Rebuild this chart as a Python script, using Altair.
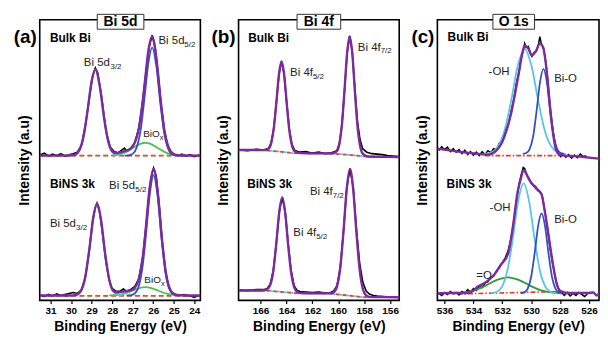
import altair as alt
import pandas as pd

FONT = "Liberation Sans"
PURPLE = "#7d2a9e"
BLUE = "#3450c4"
CYAN = "#56c6e4"
GREEN_A = "#4cbf55"
GREEN_C = "#2f9a3a"
RED = "#e53b2c"
H = 283

# ---------------- Panel (a) Bi 5d ----------------
A_TICKS = [31, 30, 29, 28, 27, 26, 25, 24]
A_DOMAIN = [23.7, 31.53]
A_UP_ENV_E = [31.5, 31.0, 30.5, 30.2, 30.0, 29.8, 29.6, 29.4, 29.2, 29.0, 28.82, 28.6, 28.4, 28.2, 28.0, 27.8, 27.6, 27.4, 27.2, 27.0, 26.8, 26.6, 26.4, 26.25, 26.05, 25.85, 25.65, 25.45, 25.25, 25.05, 24.8, 24.5, 24.0, 23.7]
A_UP_ENV_I = [146, 146, 146, 146, 146.2, 147.1, 151.4, 164.8, 191.1, 221.1, 233.0, 215.8, 185.0, 161.1, 150.4, 148.5, 149.5, 150.5, 151.8, 155.3, 164.5, 185.6, 221.4, 249.5, 266.1, 245.5, 204.6, 170.9, 154.0, 148.2, 146.5, 146.1, 146, 146]
A_UP_D32_E = [30.2, 30.0, 29.8, 29.6, 29.4, 29.2, 29.0, 28.82, 28.6, 28.4, 28.2, 28.0, 27.8, 27.6]
A_UP_D32_I = [146, 146.2, 147.1, 151.4, 164.8, 191.1, 221.1, 232.5, 215.8, 185.0, 161.1, 150.1, 146.8, 146]
A_UP_D52_E = [27.4, 27.2, 27.0, 26.8, 26.6, 26.4, 26.25, 26.05, 25.85, 25.65, 25.45, 25.25, 25.05, 24.8, 24.5]
A_UP_D52_I = [146, 146.3, 147.8, 154.4, 173.5, 208.4, 236.8, 255, 236.8, 198.5, 167.1, 151.9, 147.1, 146.1, 146]
A_UP_OX_E = [28.0, 27.8, 27.6, 27.4, 27.2, 27.0, 26.8, 26.6, 26.4, 26.25, 26.05, 25.85, 25.65, 25.45, 25.25, 25.05, 24.8, 24.5]
A_UP_OX_I = [146.3, 146.8, 147.6, 149.0, 151.0, 153.5, 156.1, 158.1, 159.0, 158.7, 157.1, 154.7, 152.1, 149.8, 148.1, 147.1, 146.4, 146.1]
A_UP_DATA_E = [31.5, 31.3, 31.1, 30.9, 30.7, 30.5, 30.3, 30.1, 29.9, 29.7, 29.5, 29.3, 29.1, 28.95, 28.82, 28.7, 28.5, 28.3, 28.1, 27.9, 27.7, 27.5, 27.4, 27.3, 27.1, 26.9, 26.7, 26.5, 26.35, 26.2, 26.05, 25.9, 25.75, 25.6, 25.45, 25.3, 25.15, 25.0, 24.8, 24.6, 24.4, 24.2, 24.0, 23.8, 23.7]
A_UP_DATA_I = [147, 148.5, 145.5, 147.5, 146, 148, 145.5, 147, 148, 149.5, 156, 177, 206, 226, 234.5, 229, 203, 171, 155, 150, 149, 152, 153.5, 151, 153, 159, 174, 203, 230, 255, 267.5, 254, 226, 195, 171, 157, 150, 147.5, 146, 147.5, 145.5, 147, 145, 146.5, 145.5]
A_UP_BG_E = [31.53, 23.7]
A_UP_BG_I = [146, 146]

A_LO_ENV_E = [31.5, 31.0, 30.5, 30.0, 29.9, 29.72, 29.52, 29.32, 29.12, 28.92, 28.74, 28.54, 28.34, 28.14, 27.94, 27.74, 27.5, 27.3, 27.1, 26.9, 26.7, 26.5, 26.35, 26.18, 25.98, 25.78, 25.58, 25.38, 25.18, 24.98, 24.7, 24.4, 24.0, 23.7]
A_LO_ENV_I = [5, 5, 5, 5, 5.1, 5.8, 9.6, 22.5, 50.3, 83.6, 97.3, 80.8, 46.9, 20.8, 9.5, 8, 9, 9.5, 10.2, 12.6, 21.6, 45.0, 74.9, 112.2, 132.7, 109.4, 63.4, 27.6, 11.3, 6.4, 5.15, 5, 5, 5]
A_LO_D32_E = [29.9, 29.72, 29.52, 29.32, 29.12, 28.92, 28.74, 28.54, 28.34, 28.14, 27.94, 27.74, 27.5]
A_LO_D32_I = [5.1, 5.8, 9.6, 22.5, 50.3, 83.6, 96.8, 80.8, 46.9, 20.7, 8.9, 5.7, 5]
A_LO_D52_E = [27.3, 27.1, 26.9, 26.7, 26.5, 26.35, 26.18, 25.98, 25.78, 25.58, 25.38, 25.18, 24.98, 24.7]
A_LO_D52_I = [5, 5.25, 6.9, 14.4, 36.9, 66.6, 104.4, 126.1, 104.4, 60.0, 25.6, 10.2, 5.9, 5]
A_LO_OX_E = [28.14, 27.94, 27.74, 27.5, 27.3, 27.1, 26.9, 26.7, 26.5, 26.35, 26.18, 25.98, 25.78, 25.58, 25.38, 25.18, 24.98, 24.7]
A_LO_OX_I = [5.1, 5.3, 5.6, 6.4, 7.5, 9.0, 10.7, 12.2, 13.1, 13.3, 12.8, 11.6, 10.0, 8.4, 7.0, 6.1, 5.5, 5.15]
A_LO_DATA_E = [31.5, 31.3, 31.1, 30.9, 30.7, 30.5, 30.3, 30.1, 29.9, 29.7, 29.5, 29.3, 29.1, 28.95, 28.82, 28.74, 28.6, 28.45, 28.3, 28.15, 28.0, 27.8, 27.6, 27.45, 27.3, 27.1, 26.9, 26.7, 26.5, 26.35, 26.18, 26.05, 25.98, 25.85, 25.7, 25.55, 25.4, 25.25, 25.1, 24.9, 24.7, 24.5, 24.3, 24.1, 24.0, 23.85, 23.7]
A_LO_DATA_I = [5.5, 4, 6, 4.5, 6.5, 5, 6, 7, 8, 7, 10.5, 24, 53, 80, 94, 98, 88, 64, 38, 21, 12, 9, 9.5, 11.5, 9, 11, 14, 22, 45, 75, 112, 128, 133.5, 125, 95, 57, 30, 14, 8, 6, 5, 6, 5, 4, 3, 4.5, 5]
A_LO_BG_E = [31.53, 23.7]
A_LO_BG_I = [4.5, 4.5]

A_SAMPLE_TXT = ["Bulk Bi", "BiNS 3k"]
A_SAMPLE_E = [31.03, 31.03]
A_SAMPLE_I = [265, 117]
A_PEAK_TXT = ["Bi 5d", "Bi 5d", "Bi 5d", "Bi 5d"]
A_PEAK_E = [29.38, 25.74, 28.15, 31.03]
A_PEAK_I = [239, 262, 115, 77]
A_SUB_TXT = ["3/2", "5/2", "5/2", "3/2"]
A_SUB_E = [28.08, 24.48, 26.87, 29.76]
A_SUB_I = [235, 258, 111, 73]
A_OX_TXT = ["BiO", "BiO"]
A_OX_E = [26.49, 26.43]
A_OX_I = [168, 21]
A_OXSUB_TXT = ["x", "x"]
A_OXSUB_E = [25.68, 25.62]
A_OXSUB_I = [164, 17]

# ---------------- Panel (b) Bi 4f ----------------
B_TICKS = [166, 164, 162, 160, 158, 156]
B_DOMAIN = [155.3, 167.7]
B_UP_ENV_E = [167.7, 166.5, 165.78, 165.38, 165.18, 164.98, 164.78, 164.58, 164.38, 164.18, 163.98, 163.78, 163.58, 163.38, 162.98, 161.5, 160.52, 160.12, 159.92, 159.72, 159.52, 159.32, 159.12, 158.92, 158.72, 158.52, 158.32, 158.12, 157.72, 156.5, 155.3]
B_UP_ENV_I = [151.7, 151.7, 151.6, 153.0, 158.6, 173.4, 199.6, 228.2, 240.9, 227.7, 198.4, 171.7, 156.4, 150.5, 148.5, 148.3, 148.2, 150.3, 157.8, 177.3, 211.9, 249.6, 266.3, 249.1, 210.9, 175.9, 156.0, 148.0, 145.1, 144.8, 144.6]
B_UP_BG_E = [167.7, 165.8, 164.6, 163.5, 160.7, 159.2, 157.7, 155.3]
B_UP_BG_I = [151.7, 151.5, 150.2, 148.5, 148.3, 146.8, 145.0, 144.8]
B_UP_DATA_E = [167.7, 167.0, 166.3, 165.8, 165.38, 165.18, 164.98, 164.78, 164.58, 164.38, 164.18, 163.98, 163.78, 163.58, 163.38, 163.0, 162.5, 162.0, 161.5, 161.0, 160.52, 160.12, 159.92, 159.72, 159.52, 159.32, 159.12, 158.92, 158.72, 158.52, 158.32, 158.12, 157.8, 157.4, 157.0, 156.6, 156.2, 155.8, 155.3]
B_UP_DATA_I = [152, 151, 152.5, 151.5, 153.5, 159, 174, 200, 228, 241, 228, 199, 172.5, 157.5, 151.5, 149.5, 150, 148.5, 149.5, 148, 149, 151, 158, 177.5, 212, 249.5, 266.5, 250, 213, 180, 162, 153, 149.5, 148, 147.5, 147, 146, 145.5, 145]

B_LO_ENV_E = [167.7, 166.5, 165.71, 165.48, 165.25, 165.02, 164.79, 164.56, 164.33, 164.10, 163.87, 163.64, 163.41, 163.18, 162.95, 161.8, 160.6, 160.35, 160.1, 159.85, 159.6, 159.35, 159.1, 158.85, 158.6, 158.35, 158.1, 157.85, 157.6, 156.5, 155.3]
B_LO_ENV_I = [10, 10, 10.2, 11.2, 15.6, 29.4, 56.8, 89.1, 103.9, 88.4, 55.7, 27.7, 13.4, 8.6, 7.5, 7.1, 7.2, 8.3, 14.2, 32.7, 69.5, 112.6, 132.6, 112.0, 68.1, 30.7, 11.3, 5.0, 3.6, 3.3, 3.2]
B_LO_BG_E = [167.7, 165.6, 164.4, 163.3, 160.7, 159.4, 158.1, 155.3]
B_LO_BG_I = [10, 10, 8.6, 7.3, 7.0, 5.2, 3.3, 3.2]
B_LO_DATA_E = [167.7, 167.0, 166.3, 165.71, 165.48, 165.25, 165.02, 164.79, 164.56, 164.33, 164.10, 163.87, 163.64, 163.41, 163.18, 162.95, 162.5, 162.0, 161.5, 161.0, 160.6, 160.35, 160.1, 159.85, 159.6, 159.35, 159.1, 158.85, 158.6, 158.35, 158.1, 157.85, 157.6, 157.3, 157.0, 156.5, 156.0, 155.3]
B_LO_DATA_I = [10.5, 10, 11, 11, 12, 16.5, 30, 57, 89, 104, 89, 57, 30, 15, 10, 9, 8.5, 8, 8.5, 7.5, 8, 9.5, 15, 33, 69.5, 112.5, 133, 114, 72, 37, 18, 9.5, 6.5, 5, 4.5, 4, 3.5, 3.5]

B_SAMPLE_TXT = ["Bulk Bi", "BiNS 3k"]
B_SAMPLE_E = [166.96, 167.03]
B_SAMPLE_I = [265, 117]
B_PEAK_TXT = ["Bi 4f", "Bi 4f", "Bi 4f", "Bi 4f"]
B_PEAK_E = [163.72, 158.49, 162.19, 163.47]
B_PEAK_I = [229, 255, 109.3, 68.3]
B_SUB_TXT = ["5/2", "7/2", "7/2", "5/2"]
B_SUB_E = [161.96, 156.73, 160.43, 161.71]
B_SUB_I = [225, 251, 105.3, 64.3]

# ---------------- Panel (c) O 1s ----------------
C_TICKS = [536, 534, 532, 530, 528, 526]
C_DOMAIN = [525.3, 536.5]
C_UP_ENV_E = [536.5, 535.5, 534.5, 533.5, 533.0, 532.6, 532.3, 532.0, 531.7, 531.4, 531.1, 530.85, 530.6, 530.45, 530.2, 529.95, 529.65, 529.4, 529.15, 528.9, 528.7, 528.5, 528.3, 528.05, 527.7, 527.0, 526.0, 525.3]
C_UP_ENV_I = [153, 151, 149, 147.5, 147, 149, 153, 160, 172, 188, 210, 230, 250, 257, 254, 247, 252, 259, 254, 228, 196, 170, 153, 147, 146, 145.5, 144, 143]
C_UP_OH_E = [533.3, 532.83, 532.35, 531.88, 531.4, 530.93, 530.45, 529.98, 529.5, 529.03, 528.55, 528.08, 527.6]
C_UP_OH_I = [147.7, 148.9, 154.1, 169.8, 200.5, 236.6, 253.5, 236.6, 200.5, 169.8, 154.1, 148.9, 147.7]
C_UP_BIO_E = [530.58, 530.34, 530.1, 529.86, 529.63, 529.39, 529.15, 528.91, 528.68, 528.44, 528.2, 527.96, 527.73]
C_UP_BIO_I = [147.7, 148.6, 152.9, 165.6, 190.5, 219.8, 233.5, 219.8, 190.5, 165.6, 152.9, 148.6, 147.7]
C_UP_BG_E = [533.2, 527.9]
C_UP_BG_I = [146, 146]
C_UP_DATA_E = [536.4, 536.2, 536.0, 535.8, 535.6, 535.4, 535.2, 535.0, 534.8, 534.6, 534.4, 534.2, 534.0, 533.8, 533.6, 533.4, 533.2, 533.0, 532.8, 532.6, 532.4, 532.2, 532.0, 531.8, 531.6, 531.4, 531.2, 531.0, 530.85, 530.7, 530.55, 530.45, 530.35, 530.2, 530.05, 529.95, 529.8, 529.65, 529.5, 529.4, 529.3, 529.15, 529.0, 528.85, 528.7, 528.55, 528.4, 528.25, 528.1, 527.95, 527.8, 527.6, 527.4, 527.2, 527.0, 526.8, 526.6, 526.4, 526.2]
C_UP_DATA_I = [151, 155, 152, 154.5, 150, 153, 149.5, 152, 148, 151.5, 147, 150, 146.5, 149.5, 146, 150, 147, 151, 149, 153, 152, 159, 160, 171, 176, 190, 203, 221, 229, 245, 252, 259, 255, 256, 249, 246, 250, 251, 258, 266, 259, 255, 241, 222, 197, 178, 163, 152, 150, 145, 148, 144.5, 147, 143.5, 146.5, 144, 147.5, 145, 146]

C_LO_ENV_E = [536.5, 535.5, 534.4, 534.0, 533.7, 533.3, 533.0, 532.5, 532.1, 531.6, 531.28, 530.93, 530.73, 530.52, 530.31, 530.13, 529.83, 529.56, 529.28, 529.08, 528.87, 528.53, 528.23, 527.98, 527.5, 526.8, 526.1, 525.7, 525.45, 525.3]
C_LO_ENV_I = [7, 7.5, 7.5, 10, 14, 17, 20, 27, 36, 47, 73, 110, 122, 131.5, 127, 121.5, 116, 111.5, 107, 92, 73, 40, 17, 9.5, 7.5, 7.5, 7.5, 8, 5, 7]
C_LO_OH_E = [532.77, 532.4, 532.02, 531.65, 531.27, 530.9, 530.52, 530.15, 529.77, 529.4, 529.02, 528.65, 528.27]
C_LO_OH_I = [7.2, 8.5, 13.9, 30.3, 62.5, 100.4, 118, 100.4, 62.5, 30.3, 13.9, 8.5, 7.2]
C_LO_BIO_E = [530.72, 530.48, 530.24, 530.0, 529.76, 529.52, 529.28, 529.04, 528.8, 528.56, 528.32, 528.08, 527.84]
C_LO_BIO_I = [7.2, 8.1, 12.0, 23.9, 47.4, 74.9, 87.7, 74.9, 47.4, 23.9, 12.0, 8.1, 7.2]
C_LO_O_E = [535.37, 534.62, 533.87, 533.12, 532.37, 531.62, 530.87, 530.12, 529.37, 528.62, 527.87]
C_LO_O_I = [7.2, 8.0, 10.4, 15.2, 20.7, 23.3, 20.7, 15.2, 10.4, 8.0, 7.2]
C_LO_BG_E = [535.1, 527.7]
C_LO_BG_I = [6.5, 9]
C_LO_DATA_E = [536.4, 536.2, 536.0, 535.8, 535.6, 535.4, 535.2, 535.0, 534.8, 534.6, 534.4, 534.2, 534.0, 533.8, 533.6, 533.4, 533.2, 533.0, 532.8, 532.6, 532.4, 532.2, 532.0, 531.8, 531.6, 531.4, 531.2, 531.0, 530.85, 530.7, 530.55, 530.45, 530.3, 530.15, 530.0, 529.85, 529.7, 529.55, 529.4, 529.25, 529.1, 528.95, 528.8, 528.65, 528.5, 528.35, 528.2, 528.05, 527.9, 527.7, 527.5, 527.3, 527.1, 526.9, 526.7, 526.5, 526.3, 526.1]
C_LO_DATA_I = [7, 5, 8, 6, 9, 6.5, 8, 5.5, 9, 7, 11, 8.5, 12, 10, 14, 13, 17.5, 19, 23, 24.5, 30, 33, 38, 43, 50, 62, 80, 102, 117, 126, 134, 133, 126, 123, 118, 116, 115, 112, 110, 106, 94, 80, 64, 49, 36, 24, 15, 10, 8, 5, 8, 4.5, 7, 5, 8, 6, 4, 6.5]

C_SAMPLE_TXT = ["Bulk Bi", "BiNS 3k"]
C_SAMPLE_E = [535.79, 535.86]
C_SAMPLE_I = [265.7, 117]
C_PEAK_TXT = ["-OH", "Bi-O", "-OH", "Bi-O", "=O"]
C_PEAK_E = [532.95, 528.41, 532.88, 528.41, 533.8]
C_PEAK_I = [230, 223, 93.3, 80.7, 25]


def df(E, I, spec="s"):
    return pd.DataFrame({"E": E, "I": I, "spec": spec})


def tdf(T, E, I):
    return pd.DataFrame({"t": T, "E": E, "I": I})


def panel(domain, ticks, width, curves, texts, title_txt, title_cx, title_w, letter):
    xs = alt.Scale(domain=domain, reverse=True, nice=False, zero=False)
    ys = alt.Scale(domain=[0, H], nice=False, zero=False)
    xax = alt.Axis(values=ticks, format="d", title="Binding Energy (eV)", grid=False,
                   domain=False, tickSize=3, tickColor="black", tickWidth=1.2,
                   labelFontSize=10, labelFontWeight="bold", labelColor="black",
                   labelPadding=2, titleFontSize=14, titleFontWeight="bold",
                   titleColor="black", titlePadding=4, labelFlush=False)
    yax = alt.Axis(title="Intensity (a.u)", labels=False, ticks=False, domain=False,
                   grid=False, titleFontSize=14, titleFontWeight="bold",
                   titleColor="black", titlePadding=8)
    X = alt.X("E:Q", scale=xs, axis=xax)
    Y = alt.Y("I:Q", scale=ys, axis=yax)
    layers = []
    for d, style in curves:
        layers.append(alt.Chart(d).mark_line(clip=True, **style).encode(x=X, y=Y, detail="spec:N"))
    for d, style in texts:
        layers.append(alt.Chart(d).mark_text(font=FONT, baseline="middle", **style)
                      .encode(x=X, y=Y, text="t:N"))
    box = alt.Chart(pd.DataFrame({"t": [title_txt]})).mark_rect(
        fill="white", stroke="#333333", strokeWidth=1).encode(
        x=alt.value(title_cx - title_w / 2), x2=alt.value(title_cx + title_w / 2),
        y=alt.value(-5.5), y2=alt.value(9.5))
    btxt = alt.Chart(pd.DataFrame({"t": [title_txt]})).mark_text(
        font=FONT, fontSize=14, fontWeight="bold", baseline="middle", align="center",
        color="black").encode(x=alt.value(title_cx), y=alt.value(2.5), text="t:N")
    let = alt.Chart(pd.DataFrame({"t": [letter]})).mark_text(
        font=FONT, fontSize=19, fontWeight="bold", baseline="middle", align="right",
        color="black").encode(x=alt.value(-3), y=alt.value(17), text="t:N")
    layers += [box, btxt, let]
    return alt.layer(*layers).properties(width=width, height=H)


def s(color, w, dash=None, interp="monotone", offset=None):
    st = dict(color=color, strokeWidth=w, interpolate=interp)
    if dash:
        st["strokeDash"] = dash
    if offset is not None:
        st["strokeDashOffset"] = offset
    return st


SAMPLE_STYLE = dict(align="left", fontSize=12, fontWeight="bold", color="black")
PEAK_STYLE = dict(align="left", fontSize=11.5, color="#222222")
SUB_STYLE = dict(align="left", fontSize=8, color="#222222")

pa = panel(
    A_DOMAIN, A_TICKS, 162,
    [
        (pd.concat([df(A_UP_BG_E, A_UP_BG_I, "u"), df(A_LO_BG_E, A_LO_BG_I, "l")]), s(RED, 1.8, [5, 3], "linear")),
        (pd.concat([df(A_UP_BG_E, A_UP_BG_I, "u"), df(A_LO_BG_E, A_LO_BG_I, "l")]), s(GREEN_A, 1.6, [1.5, 6.5], "linear", 6)),
        (pd.concat([df(A_UP_DATA_E, A_UP_DATA_I, "u"), df(A_LO_DATA_E, A_LO_DATA_I, "l")]), s("black", 1.6, None, "linear")),
        (pd.concat([df(A_UP_OX_E, A_UP_OX_I, "u"), df(A_LO_OX_E, A_LO_OX_I, "l")]), s(GREEN_A, 1.8)),
        (pd.concat([df(A_UP_D32_E, A_UP_D32_I, "u"), df(A_LO_D32_E, A_LO_D32_I, "l")]), s(CYAN, 1.8)),
        (pd.concat([df(A_UP_D52_E, A_UP_D52_I, "u"), df(A_LO_D52_E, A_LO_D52_I, "l")]), s(BLUE, 1.8)),
        (pd.concat([df(A_UP_ENV_E, A_UP_ENV_I, "u"), df(A_LO_ENV_E, A_LO_ENV_I, "l")]), s(PURPLE, 2.4)),
    ],
    [
        (tdf(A_SAMPLE_TXT, A_SAMPLE_E, A_SAMPLE_I), SAMPLE_STYLE),
        (tdf(A_PEAK_TXT, A_PEAK_E, A_PEAK_I), PEAK_STYLE),
        (tdf(A_SUB_TXT, A_SUB_E, A_SUB_I), SUB_STYLE),
        (tdf(A_OX_TXT, A_OX_E, A_OX_I), dict(align="left", fontSize=10, color="#222222")),
        (tdf(A_OXSUB_TXT, A_OXSUB_E, A_OXSUB_I), dict(align="left", fontSize=7.5, color="#222222")),
    ],
    "Bi 5d", 81.5, 47, "(a)")

pb = panel(
    B_DOMAIN, B_TICKS, 162,
    [
        (pd.concat([df(B_UP_BG_E, B_UP_BG_I, "u"), df(B_LO_BG_E, B_LO_BG_I, "l")]), s(RED, 1.8, [4, 3], "linear")),
        (pd.concat([df(B_UP_BG_E, B_UP_BG_I, "u"), df(B_LO_BG_E, B_LO_BG_I, "l")]), s(CYAN, 1.8, [3, 4], "linear", 3.5)),
        (pd.concat([df(B_UP_DATA_E, B_UP_DATA_I, "u"), df(B_LO_DATA_E, B_LO_DATA_I, "l")]), s("black", 1.6, None, "linear")),
        (pd.concat([df(B_UP_ENV_E, B_UP_ENV_I, "u"), df(B_LO_ENV_E, B_LO_ENV_I, "l")]), s(PURPLE, 2.4)),
    ],
    [
        (tdf(B_SAMPLE_TXT, B_SAMPLE_E, B_SAMPLE_I), SAMPLE_STYLE),
        (tdf(B_PEAK_TXT, B_PEAK_E, B_PEAK_I), PEAK_STYLE),
        (tdf(B_SUB_TXT, B_SUB_E, B_SUB_I), SUB_STYLE),
    ],
    "Bi 4f", 81, 44, "(b)")

pc = panel(
    C_DOMAIN, C_TICKS, 163,
    [
        (pd.concat([df(C_UP_BG_E, C_UP_BG_I, "u"), df(C_LO_BG_E, C_LO_BG_I, "l")]), s(RED, 1.6, [5, 2, 1.5, 2], "linear")),
        (pd.concat([df(C_UP_DATA_E, C_UP_DATA_I, "u"), df(C_LO_DATA_E, C_LO_DATA_I, "l")]), s("black", 1.5, None, "linear")),
        (df(C_LO_O_E, C_LO_O_I, "l"), s(GREEN_C, 1.8)),
        (pd.concat([df(C_UP_OH_E, C_UP_OH_I, "u"), df(C_LO_OH_E, C_LO_OH_I, "l")]), s(CYAN, 1.8)),
        (pd.concat([df(C_UP_BIO_E, C_UP_BIO_I, "u"), df(C_LO_BIO_E, C_LO_BIO_I, "l")]), s(BLUE, 1.8)),
        (pd.concat([df(C_UP_ENV_E, C_UP_ENV_I, "u"), df(C_LO_ENV_E, C_LO_ENV_I, "l")]), s(PURPLE, 2.4)),
    ],
    [
        (tdf(C_SAMPLE_TXT, C_SAMPLE_E, C_SAMPLE_I), SAMPLE_STYLE),
        (tdf(C_PEAK_TXT, C_PEAK_E, C_PEAK_I), PEAK_STYLE),
    ],
    "O 1s", 77, 42, "(c)")

chart = alt.hconcat(pa, pb, pc, spacing=38.5, bounds="flush").properties(
    padding={"left": 4, "top": 3.5, "right": 0, "bottom": 0}
).configure_view(stroke="black", strokeWidth=1.6).configure_axis(
    labelFont=FONT, titleFont=FONT
).configure_text(font=FONT)

chart.save("out.html", embed_options={"renderer": "svg", "actions": False})
